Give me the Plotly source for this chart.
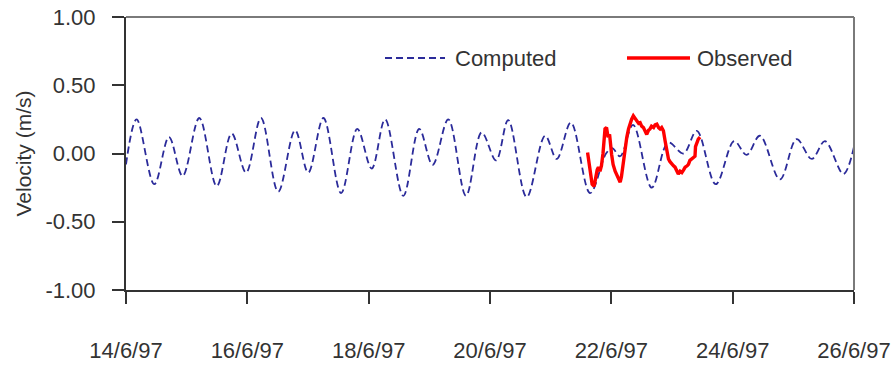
import pandas as pd
import plotly.graph_objects as go

# Time axis origin: 14 June 1997, 00:00
START = pd.Timestamp("1997-06-14")

# Computed velocity (m/s): turning points of the modelled tidal current, hours since START
computed_hours = [0.0, 4.2, 11.2, 17.0, 22.4, 29.0, 35.9, 41.8, 47.5, 53.4,
                  60.2, 66.9, 72.1, 78.1, 85.1, 91.5, 97.2, 102.5, 109.7, 116.0,
                  121.3, 127.5, 134.5, 140.7, 146.4, 151.2, 158.5, 165.8, 170.4, 176.0,
                  183.6, 189.9, 192.3, 195.5, 200.6, 208.0, 214.5, 220.5, 225.8, 233.3,
                  240.6, 245.5, 250.8, 258.7, 265.3, 271.3, 276.5, 283.8, 288.0]
computed_vel = [-0.08, 0.25, -0.225, 0.12, -0.165, 0.26, -0.24, 0.147, -0.14, 0.26,
                -0.28, 0.17, -0.14, 0.26, -0.29, 0.18, -0.11, 0.25, -0.31, 0.18,
                -0.083, 0.25, -0.31, 0.154, -0.05, 0.245, -0.32, 0.13, -0.04, 0.227,
                -0.29, 0.0, 0.04, -0.02, 0.21, -0.25, 0.08, 0.0, 0.166, -0.225,
                0.09, -0.01, 0.13, -0.19, 0.105, -0.04, 0.09, -0.15, 0.05]

# Observed velocity (m/s), hours since START
observed_hours = [182.6, 183.2, 183.8, 184.4, 185.2, 185.8, 186.4, 186.9, 187.5, 188.1,
                  188.7, 189.5, 190.1, 190.7, 191.3, 192.1, 192.7, 193.5, 194.3, 194.8,
                  195.5, 196.0, 196.8, 197.4, 198.1, 198.8, 199.4, 200.0, 200.7, 201.4,
                  202.1, 202.8, 203.4, 204.0, 204.7, 205.3, 206.0, 206.7, 207.3, 207.9,
                  208.7, 209.3, 210.0, 210.7, 211.3, 211.9, 212.6, 213.3, 213.9, 214.6,
                  215.2, 215.9, 216.6, 217.2, 217.8, 218.5, 219.2, 219.9, 220.6, 221.2,
                  222.0, 222.5, 223.1, 223.8, 224.5, 225.1, 225.3, 225.9, 226.4, 227.1]
observed_vel = [0.007, -0.08, -0.18, -0.225, -0.24, -0.17, -0.12, -0.10, -0.13, -0.09,
                0.0, 0.18, 0.19, 0.12, 0.14, -0.005, -0.08, -0.13, -0.16, -0.19,
                -0.21, -0.17, -0.05, 0.05, 0.117, 0.18, 0.227, 0.25, 0.276, 0.26,
                0.24, 0.22, 0.225, 0.20, 0.19, 0.17, 0.14, 0.17, 0.18, 0.20,
                0.19, 0.21, 0.215, 0.19, 0.18, 0.19, 0.166, 0.09, 0.02, -0.04,
                -0.06, -0.08, -0.09, -0.10, -0.12, -0.15, -0.13, -0.14, -0.12, -0.10,
                -0.09, -0.08, -0.05, -0.04, -0.03, -0.02, 0.05, 0.09, 0.105, 0.12]

tick_dates = ["1997-06-14", "1997-06-16", "1997-06-18", "1997-06-20",
              "1997-06-22", "1997-06-24", "1997-06-26"]
tick_labels = ["14/6/97", "16/6/97", "18/6/97", "20/6/97", "22/6/97", "24/6/97", "26/6/97"]
y_ticks = [-1.0, -0.5, 0.0, 0.5, 1.0]
y_tick_labels = ["-1.00", "-0.50", "0.00", "0.50", "1.00"]

BLUE = "#2b2b9a"
RED = "#ff0000"
FONT = "Liberation Sans, Arial, sans-serif"
TXT = "#333333"
FS = 22

t_comp = START + pd.to_timedelta(computed_hours, unit="h")
t_obs = START + pd.to_timedelta(observed_hours, unit="h")

fig = go.Figure()
fig.add_trace(go.Scatter(
    x=t_comp, y=computed_vel, name="Computed", mode="lines",
    line=dict(color=BLUE, width=1.8, dash="7px,4px", shape="spline", smoothing=1.0),
    showlegend=False,
))
fig.add_trace(go.Scatter(
    x=t_obs, y=observed_vel, name="Observed", mode="lines",
    line=dict(color=RED, width=3.4),
    showlegend=False,
))

# Legend keys drawn as line samples with text labels
LEG_Y = (290 - 58) / 273
fig.add_shape(type="line", xref="paper", yref="paper",
              x0=(385 - 126) / 728, x1=(445 - 126) / 728, y0=LEG_Y, y1=LEG_Y,
              line=dict(color=BLUE, width=1.8, dash="7px,4px"))
fig.add_annotation(text="Computed", xref="paper", yref="paper",
                   x=(453 - 126) / 728, y=LEG_Y,
                   xanchor="left", yanchor="middle", showarrow=False,
                   font=dict(family=FONT, size=FS, color=TXT))
fig.add_shape(type="line", xref="paper", yref="paper",
              x0=(627 - 126) / 728, x1=(690 - 126) / 728, y0=LEG_Y, y1=LEG_Y,
              line=dict(color=RED, width=3.4))
fig.add_annotation(text="Observed", xref="paper", yref="paper",
                   x=(695 - 126) / 728, y=LEG_Y,
                   xanchor="left", yanchor="middle", showarrow=False,
                   font=dict(family=FONT, size=FS, color=TXT))

# Grey frame along the top and right of the plotting area
fig.add_shape(type="line", xref="paper", yref="paper", x0=0, x1=1, y0=1, y1=1,
              line=dict(color="#7a7a7a", width=2))
fig.add_shape(type="line", xref="paper", yref="paper", x0=1, x1=1, y0=0, y1=1,
              line=dict(color="#7a7a7a", width=2))

fig.update_layout(
    width=893, height=365,
    margin=dict(l=126, r=39, t=17, b=75),
    paper_bgcolor="white", plot_bgcolor="white",
    font=dict(family=FONT, size=FS, color=TXT),
    showlegend=False,
)
fig.update_xaxes(
    type="date", range=[tick_dates[0], tick_dates[-1]],
    tickmode="array", tickvals=tick_dates, ticktext=tick_labels,
    ticks="outside", ticklen=12, tickwidth=2, tickcolor="#333333",
    showline=True, linecolor="#333333", linewidth=2,
    showgrid=False, zeroline=False, automargin=False,
    ticklabelstandoff=28,
    tickfont=dict(family=FONT, size=FS, color=TXT),
)
fig.update_yaxes(
    range=[-1, 1], tickmode="array", tickvals=y_ticks, ticktext=y_tick_labels,
    ticks="outside", ticklen=12, tickwidth=2, tickcolor="#333333",
    showline=True, linecolor="#333333", linewidth=2,
    showgrid=False, zeroline=False, automargin=False,
    ticklabelstandoff=12,
    tickfont=dict(family=FONT, size=FS, color=TXT),
    title=dict(text="Velocity (m/s)", standoff=8,
               font=dict(family=FONT, size=21, color=TXT)),
)

fig.write_html("out.html")
